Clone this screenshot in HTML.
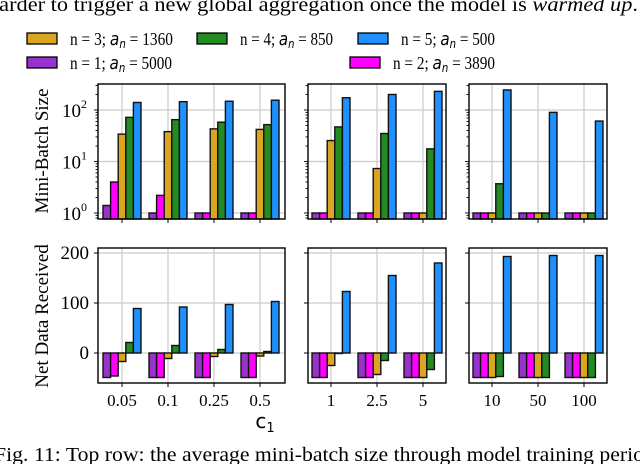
<!DOCTYPE html>
<html><head><meta charset="utf-8"><style>
html,body{margin:0;padding:0;background:#fff;width:640px;height:464px;overflow:hidden}
svg{display:block;font-family:"Liberation Serif",serif}
</style></head><body>
<svg id="c" width="640" height="464" viewBox="0 0 640 464">
<text x="-12" y="11" font-size="20" textLength="650" lengthAdjust="spacingAndGlyphs">harder to trigger a new global aggregation once the model is <tspan font-style="italic">warmed up</tspan>.</text>
<text x="-6" y="461" font-size="20" textLength="650" lengthAdjust="spacingAndGlyphs">Fig. 11: Top row: the average mini-batch size through model training perio</text>
<g id="legend"></g>
<g id="plots"></g>
<text x="48" y="151" font-size="19" text-anchor="middle" transform="rotate(-90 48 151)">Mini-Batch Size</text>
<text x="48" y="316" font-size="19" text-anchor="middle" transform="rotate(-90 48 316)">Net Data Received</text>
<text x="265" y="428" font-size="20" font-family="'DejaVu Sans',sans-serif" text-anchor="middle">c<tspan font-size="13" dy="4">1</tspan></text>
</svg>
<script>
const seriesNames=["n = 1; a_n = 5000","n = 2; a_n = 3890","n = 3; a_n = 1360","n = 4; a_n = 850","n = 5; a_n = 500"];
const colors=["#9932CC","#FF00FF","#DAA520","#228B22","#1E90FF"];
const categories1=["0.05","0.1","0.25","0.5"];
const categories2=["1","2.5","5"];
const categories3=["10","50","100"];
const batch1=[[1.4,4,34,72,140],[1,2.2,38,65,145],[1,1,43,58,148],[1,1,42,52,155]];
const batch2=[[1,1,25.5,47,173],[1,1,7.3,35,200],[1,1,1,17.6,230]];
const batch3=[[1,1,1,3.7,245],[1,1,1,1,90],[1,1,1,1,61]];
const net1=[[-49,-46,-17,21,89],[-49,-49,-11,15,92],[-49,-49,-7,7,97],[-49,-49,-6,3,103]];
const net2=[[-49,-49,-25,-1,123],[-49,-49,-43,-15,155],[-49,-49,-49,-33,180]];
const net3=[[-49,-49,-49,-47,193],[-49,-49,-49,-49,195],[-49,-49,-49,-49,195]];
const logTicks=[0,1,2];
const linTicks=[0,100,200];

const NS="http://www.w3.org/2000/svg";
const plots=document.getElementById('plots');
function mk(tag,attrs,parent){const e=document.createElementNS(NS,tag);for(const k in attrs)e.setAttribute(k,attrs[k]);(parent||plots).appendChild(e);return e;}

const leg=document.getElementById('legend');
const legPos=[[27,63,102],[350,63,102],[27,39,103],[197,39,93],[358,39,94]];
[0,1,2,3,4].forEach((i,k)=>{
  const [x,y,len]=legPos[k];
  const g=mk('g',{},leg);
  
  
  mk('rect',{x:x,y:y-6,width:30,height:11,fill:colors[i],stroke:'#000','stroke-width':1.3},g);
  const t=mk('text',{x:x+43,y:y+6,'font-size':18,textLength:len,lengthAdjust:'spacingAndGlyphs'},g);
  const p=seriesNames[i].split('a_n');
  t.appendChild(document.createTextNode(p[0]));
  const a=mk('tspan',{'font-family':"'DejaVu Sans',sans-serif",'font-style':'italic','font-size':18},t);a.textContent='a';
  const s=mk('tspan',{'font-family':"'DejaVu Sans',sans-serif",'font-style':'italic','font-size':12,dy:3},t);s.textContent='n';
  const r=mk('tspan',{dy:-3},t);r.textContent=p[1];
});

const panels=[
 {x0:98,x1:285,cx0:122,cats:categories1,batch:batch1,net:net1},
 {x0:308,x1:446,cx0:331,cats:categories2,batch:batch2,net:net2},
 {x0:469,x1:607,cx0:492,cats:categories3,batch:batch3,net:net3}
];
const topY0=84,topY1=219,botY0=248,botY1=383;
function yLog(v){return 213-Math.log10(v)*51.5;}
function yLin(v){return 353-v*0.5;}
const spacing=46,bw=7.6;
function xCat(p,i){return p.cx0+i*spacing;}

panels.forEach((p,pi)=>{
  [['top',topY0,topY1],['bot',botY0,botY1]].forEach(([row,y0,y1])=>{
    const g=mk('g',{});
    
    
    p.cats.forEach((c,i)=>{mk('line',{x1:xCat(p,i),x2:xCat(p,i),y1:y0,y2:y1,stroke:'#ccc','stroke-width':1.2},g);});
    const ys=row==='top'?logTicks.map(t=>yLog(Math.pow(10,t))):linTicks.map(yLin);
    ys.forEach(y=>mk('line',{x1:p.x0,x2:p.x1,y1:y,y2:y,stroke:'#ccc','stroke-width':1.2},g));
    const data=row==='top'?p.batch:p.net;
    data.forEach((vals,i)=>{
      vals.forEach((v,s)=>{
        const x=xCat(p,i)-2.5*bw+s*bw;
        let ya,yb;
        if(row==='top'){ya=yLog(v);yb=y1+2;}else{ya=Math.min(yLin(v),yLin(0));yb=Math.max(yLin(v),yLin(0));}
        const r=mk('rect',{x:x,y:ya,width:bw,height:Math.max(0.5,Math.min(yb,y1)-ya),fill:colors[s],stroke:'#111','stroke-width':1.4},g);
        
        
      });
    });
    if(row==='top'){
      for(let d=-1;d<=2;d++)for(let m=1;m<10;m++){const v=Math.pow(10,d)*m;const y=yLog(v);if(y<y0||y>y1)continue;
        mk('line',{x1:p.x0-(m===1?4:2.5),x2:p.x0,y1:y,y2:y,stroke:'#000','stroke-width':0.9},g);}
    } else {
      linTicks.forEach(t=>mk('line',{x1:p.x0-4,x2:p.x0,y1:yLin(t),y2:yLin(t),stroke:'#000','stroke-width':1},g));
    }
    p.cats.forEach((c,i)=>mk('line',{x1:xCat(p,i),x2:xCat(p,i),y1:y1,y2:y1+4,stroke:'#000','stroke-width':1},g));
    mk('rect',{x:p.x0,y:y0,width:p.x1-p.x0,height:y1-y0,fill:'none',stroke:'#000','stroke-width':1.4},g);
    if(pi===0){
      if(row==='top'){logTicks.forEach(t=>{const tx=mk('text',{x:62,y:yLog(Math.pow(10,t))+7,'font-size':19},g);tx.textContent='10';const sp=mk('tspan',{'font-size':12,dy:-9},tx);sp.textContent=String(t);});}
      else linTicks.forEach(t=>{const tx=mk('text',{x:89,y:yLin(t)+6,'font-size':19,'text-anchor':'end'},g);tx.textContent=String(t);});
    }
    if(row==='bot'){
      p.cats.forEach((c,i)=>{const tx=mk('text',{x:xCat(p,i),y:406,'font-size':17,'text-anchor':'middle'},g);tx.textContent=c;
        
        });
    }
  });
});
</script>
</body></html>
